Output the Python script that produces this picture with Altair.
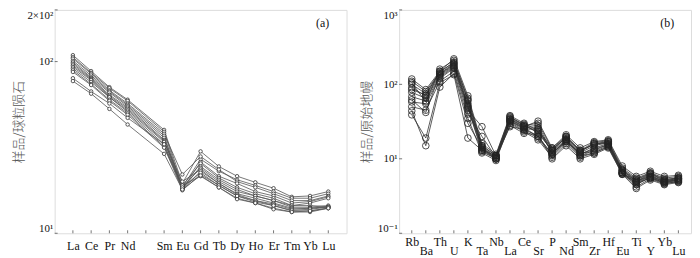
import altair as alt
import pandas as pd

# ---------------- Panel (a): chondrite-normalised REE ----------------
ree_axis = ["La", "Ce", "Pr", "Nd", "Pm", "Sm", "Eu", "Gd", "Tb", "Dy", "Ho", "Er", "Tm", "Yb", "Lu"]
ree_hidden = ["Pm"]
ree_elements = ["La", "Ce", "Pr", "Nd", "Sm", "Eu", "Gd", "Tb", "Dy", "Ho", "Er", "Tm", "Yb", "Lu"]

a01 = [109, 88, 71, 60, 40, 19.5, 30, 24.5, 21.5, 19.8, 18.3, 16.3, 16.5, 17.5]
a02 = [106, 86, 70, 59, 39, 18.5, 27, 23, 20.5, 19, 17.5, 16, 16, 17]
a03 = [104, 85, 68, 57, 38, 22, 28, 23.5, 20, 18.5, 17, 15.5, 15.5, 16.5]
a04 = [101, 83, 67, 56, 37, 18, 26, 21.5, 19.5, 17.5, 16.5, 15, 15.3, 16.3]
a05 = [99, 81, 66, 55, 36, 19, 25.5, 21, 18.5, 17, 16, 14.5, 15, 16]
a06 = [97, 80, 64, 54, 35, 18.2, 24.5, 20.5, 18, 16.5, 15.5, 14.5, 14.5, 14.3]
a07 = [95, 79, 63, 53, 34.5, 18.5, 24, 20, 17.5, 16.5, 15.5, 14.2, 14.2, 14.5]
a08 = [93, 78, 62, 52, 34, 20, 23.5, 19.5, 17, 16, 15, 14, 14, 14.2]
a09 = [91, 76, 62, 51, 33, 18, 23, 19.5, 16.8, 15.5, 14.8, 13.8, 14, 14.3]
a10 = [89, 74, 60, 50, 32, 17.8, 22, 19, 16.5, 15.5, 14.5, 13.5, 13.5, 14]
a11 = [87, 73, 59, 49, 31.5, 19, 21.5, 18.5, 16, 15, 14, 13.3, 13.3, 14]
a12 = [80, 67, 57, 47, 33, 18.5, 22.5, 19, 16.5, 15.2, 14.5, 13.6, 13.8, 14.2]
a13 = [77, 65, 53, 43, 29, 18, 21.7, 18.5, 15.8, 15, 13.8, 13.3, 13.5, 14]
a_samples = [a01, a02, a03, a04, a05, a06, a07, a08, a09, a10, a11, a12, a13]

a_ticks = [10, 100, 200]
a_tick_labels = ["10¹", "10²", "2×10²"]

# ---------------- Panel (b): primitive-mantle-normalised spider ----------------
spider_elements = ["Rb", "Ba", "Th", "U", "K", "Ta", "Nb", "La", "Ce", "Sr",
                   "P", "Nd", "Sm", "Zr", "Hf", "Eu", "Ti", "Y", "Yb", "Lu"]

b01 = [118, 85, 150, 220, 70, 16, 11.5, 38, 30, 24, 14, 21, 14, 17, 18, 8, 5.8, 6.8, 5.8, 6]
b02 = [110, 80, 145, 200, 65, 15, 11, 36, 29, 22, 13, 20, 13, 16.5, 17.5, 7.5, 5.5, 6.5, 5.5, 5.8]
b03 = [100, 75, 140, 190, 60, 14, 10.5, 35, 28, 30, 13.5, 19, 12.5, 16, 17, 7, 5.2, 6.3, 5.2, 5.6]
b04 = [90, 70, 135, 180, 55, 13.5, 10, 34, 27, 28, 12.5, 18.5, 12, 15, 16.5, 6.8, 5, 6, 5, 5.5]
b05 = [78, 65, 130, 175, 50, 13, 10, 33, 26, 26, 12, 18, 11.5, 14, 16, 6.5, 4.8, 5.8, 4.9, 5.3]
b06 = [68, 60, 125, 170, 45, 27, 11, 32, 25, 20, 11.5, 17.5, 11, 13, 15.5, 6.3, 4.5, 5.6, 4.8, 5.2]
b07 = [58, 55, 120, 165, 40, 20, 10.5, 31, 24, 19, 11, 17, 12, 12.5, 15, 6.5, 4.2, 5.4, 4.6, 5]
b08 = [50, 45, 110, 150, 35, 12, 9.5, 30, 23, 18, 10.5, 16, 10.5, 12, 14.5, 6.2, 4.0, 5.2, 4.5, 4.8]
b09 = [44, 15, 92, 140, 30, 14, 10, 28, 22, 21, 10, 15, 10, 11.5, 14, 6.2, 4.8, 5.5, 4.7, 4.9]
b10 = [39, 19, 105, 135, 19, 13, 11, 27, 25, 25, 12, 17, 11, 12, 14.5, 6.5, 5, 5.8, 5, 5.2]
b11 = [105, 58, 160, 210, 62, 15, 11, 37, 28, 23, 13, 19.5, 13, 15.5, 17, 7.2, 5.3, 6.4, 5.3, 5.5]
b12 = [85, 72, 150, 195, 52, 14.5, 10.5, 34, 27, 32, 14, 20, 12.5, 16, 16, 7, 5, 6.2, 5.1, 5.4]
b13 = [62, 42, 138, 185, 48, 12.5, 10, 32, 26, 20, 11.5, 18, 11.5, 13.5, 15.5, 6.6, 4.6, 5.6, 4.8, 5.1]
b_samples = [b01, b02, b03, b04, b05, b06, b07, b08, b09, b10, b11, b12, b13]

b_ticks = [1, 10, 100, 1000]
b_tick_labels = ["10⁻¹", "10¹", "10²", "10³"]

# ---------------- build tables ----------------
def long_table(elements, samples):
    rows = []
    for s, vals in enumerate(samples):
        for i, (e, v) in enumerate(zip(elements, vals)):
            rows.append({"sample": f"s{s}", "element": e, "idx": i, "value": v})
    return pd.DataFrame(rows)

df_a = long_table(ree_elements, a_samples)
df_b = long_table(spider_elements, b_samples)


def tick_label_expr(values, labels):
    expr = f"'{labels[-1]}'"
    for v, l in reversed(list(zip(values[:-1], labels[:-1]))):
        expr = f"datum.value == {v} ? '{l}' : ({expr})"
    return expr


SERIF = "Liberation Serif, Times New Roman, DejaVu Serif, serif"
CJK = "Noto Sans CJK SC"
H = 225
TICK = 3
FRAME = "#555"


def panel(df, axis_elems, x_label_expr, x_padding, yticks, ylabels, ydomain, ytitle,
          tag, width, line_color, pt_size, pt_fill, pt_stroke, x_label_padding, title_pad):
    xscale = alt.Scale(type="point", domain=axis_elems, padding=x_padding)
    yscale = alt.Scale(type="log", domain=ydomain, nice=False)
    x_enc = alt.X("element:N", scale=xscale, sort=axis_elems,
                  axis=alt.Axis(title=None, labelAngle=0, ticks=False, domain=False,
                                labelExpr=x_label_expr, labelFont=SERIF, labelFontSize=12,
                                labelColor="#111", labelPadding=x_label_padding,
                                labelLineHeight=9, labelBaseline="top"))
    y_enc = alt.Y("value:Q", scale=yscale,
                  axis=alt.Axis(values=yticks, labelExpr=tick_label_expr(yticks, ylabels),
                                title=ytitle, titleFont=CJK, titleFontSize=13,
                                titleFontWeight=300, titleColor="#555", titlePadding=title_pad,
                                labelFont=SERIF, labelFontSize=11, labelColor="#111",
                                labelPadding=2, ticks=False, domain=False, labelFlush=True,
                                grid=False))
    base = alt.Chart(df)
    lines = base.mark_line(color=line_color, strokeWidth=0.8).encode(
        x=x_enc, y=y_enc, detail="sample:N", order="idx:Q")
    if pt_fill:
        pts = base.mark_point(shape="circle", size=pt_size, filled=True, fill=pt_fill,
                              stroke=pt_stroke, strokeWidth=0.8, opacity=1).encode(
            x="element:N", y="value:Q")
    else:
        pts = base.mark_point(shape="circle", size=pt_size, filled=False,
                              color=pt_stroke, strokeWidth=0.8, opacity=1).encode(
            x="element:N", y="value:Q")
    xt = alt.Chart(pd.DataFrame({"element": axis_elems})).mark_rule(
        color=FRAME, strokeWidth=0.8).encode(
        x="element:N", y=alt.value(H), y2=alt.value(H - TICK))
    yt = alt.Chart(pd.DataFrame({"value": yticks})).mark_rule(
        color=FRAME, strokeWidth=0.8).encode(
        y="value:Q", x=alt.value(0), x2=alt.value(TICK))
    label = alt.Chart(pd.DataFrame({"t": [tag]})).mark_text(
        font=SERIF, fontSize=12, color="#111", align="center", baseline="middle").encode(
        text="t:N", x=alt.value(width - 24), y=alt.value(13))
    return alt.layer(lines, pts, xt, yt, label).properties(width=width, height=H)


a_expr = "indexof(" + str(ree_hidden) + ", datum.value) >= 0 ? '' : datum.value"
b_lower = spider_elements[1::2]
b_expr = "indexof(" + str(b_lower) + ", datum.value) >= 0 ? ['', datum.value] : datum.value"

chart_a = panel(df_a, ree_axis, a_expr, 1.0, a_ticks, a_tick_labels, [10, 200],
                "样品/球粒陨石", "(a)", 294, "#555", 12, "white", "#333", 7, 1)
chart_b = panel(df_b, spider_elements, b_expr, 0.9, b_ticks, b_tick_labels, [1, 1000],
                "样品/原始地幔", "(b)", 294, "#333", 45, None, "#222", 3, 4)

chart = alt.hconcat(chart_a, chart_b, spacing=12).properties(
    padding={"left": 4, "top": 0, "right": 0, "bottom": 0}
).configure_view(stroke=FRAME, strokeWidth=1).configure(background="white")

chart.save("out.html", embed_options={"renderer": "svg", "actions": False})
